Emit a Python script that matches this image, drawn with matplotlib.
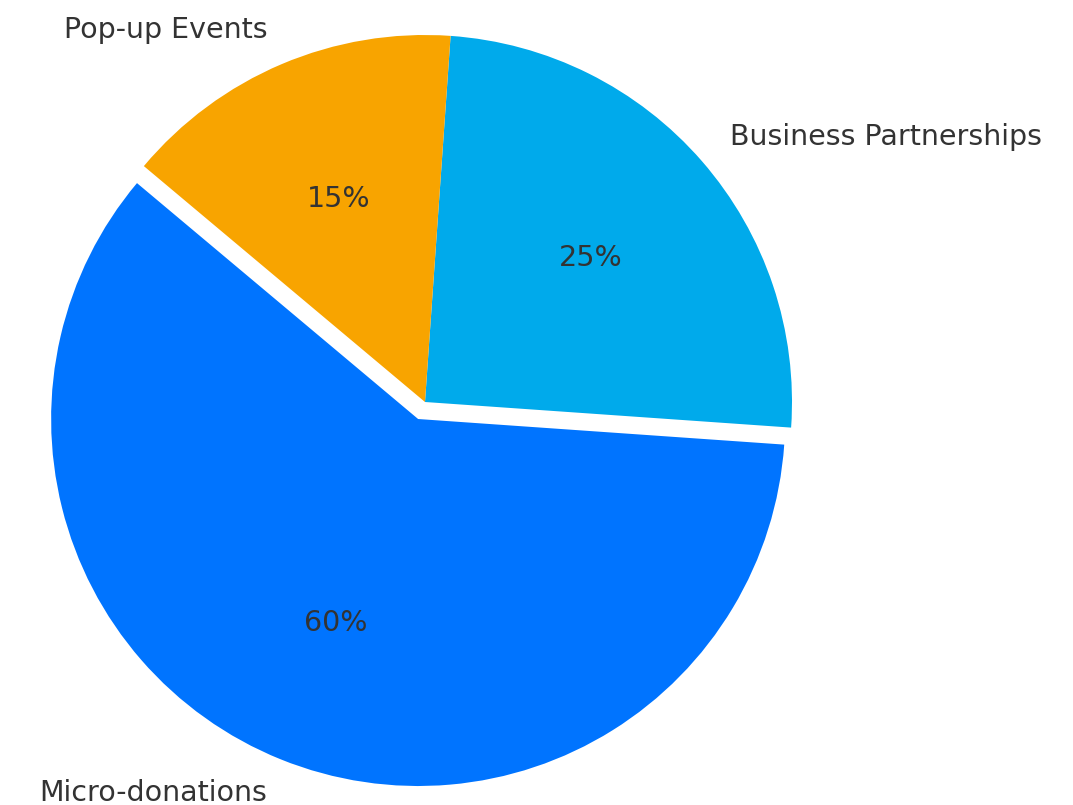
import matplotlib.pyplot as plt

# funding sources
labels = ['Micro-donations', 'Business Partnerships', 'Pop-up Events']
shares = [60, 25, 15]
colors = ['#0074FF', '#00AAEB', '#F8A400']
explode = [0.05, 0, 0]

fig = plt.figure(figsize=(10.73, 8.05), dpi=100)
ax = fig.add_axes([0, 0, 1, 1])

wedges, texts, autotexts = ax.pie(shares, labels=labels, colors=colors, explode=explode,
                                  startangle=140, autopct='%1.0f%%',
                                  textprops={'fontsize': 20.5, 'color': '#333333'})

# place the pie like the reference (radius ~367 px, centre ~(425, 402) from top)
r = 367.0
ax.set_xlim(-425 / r, (1073 - 425) / r)
ax.set_ylim(-403 / r, 402 / r)
ax.set_aspect('auto')
ax.axis('off')

plt.savefig('out.png', dpi=100)
